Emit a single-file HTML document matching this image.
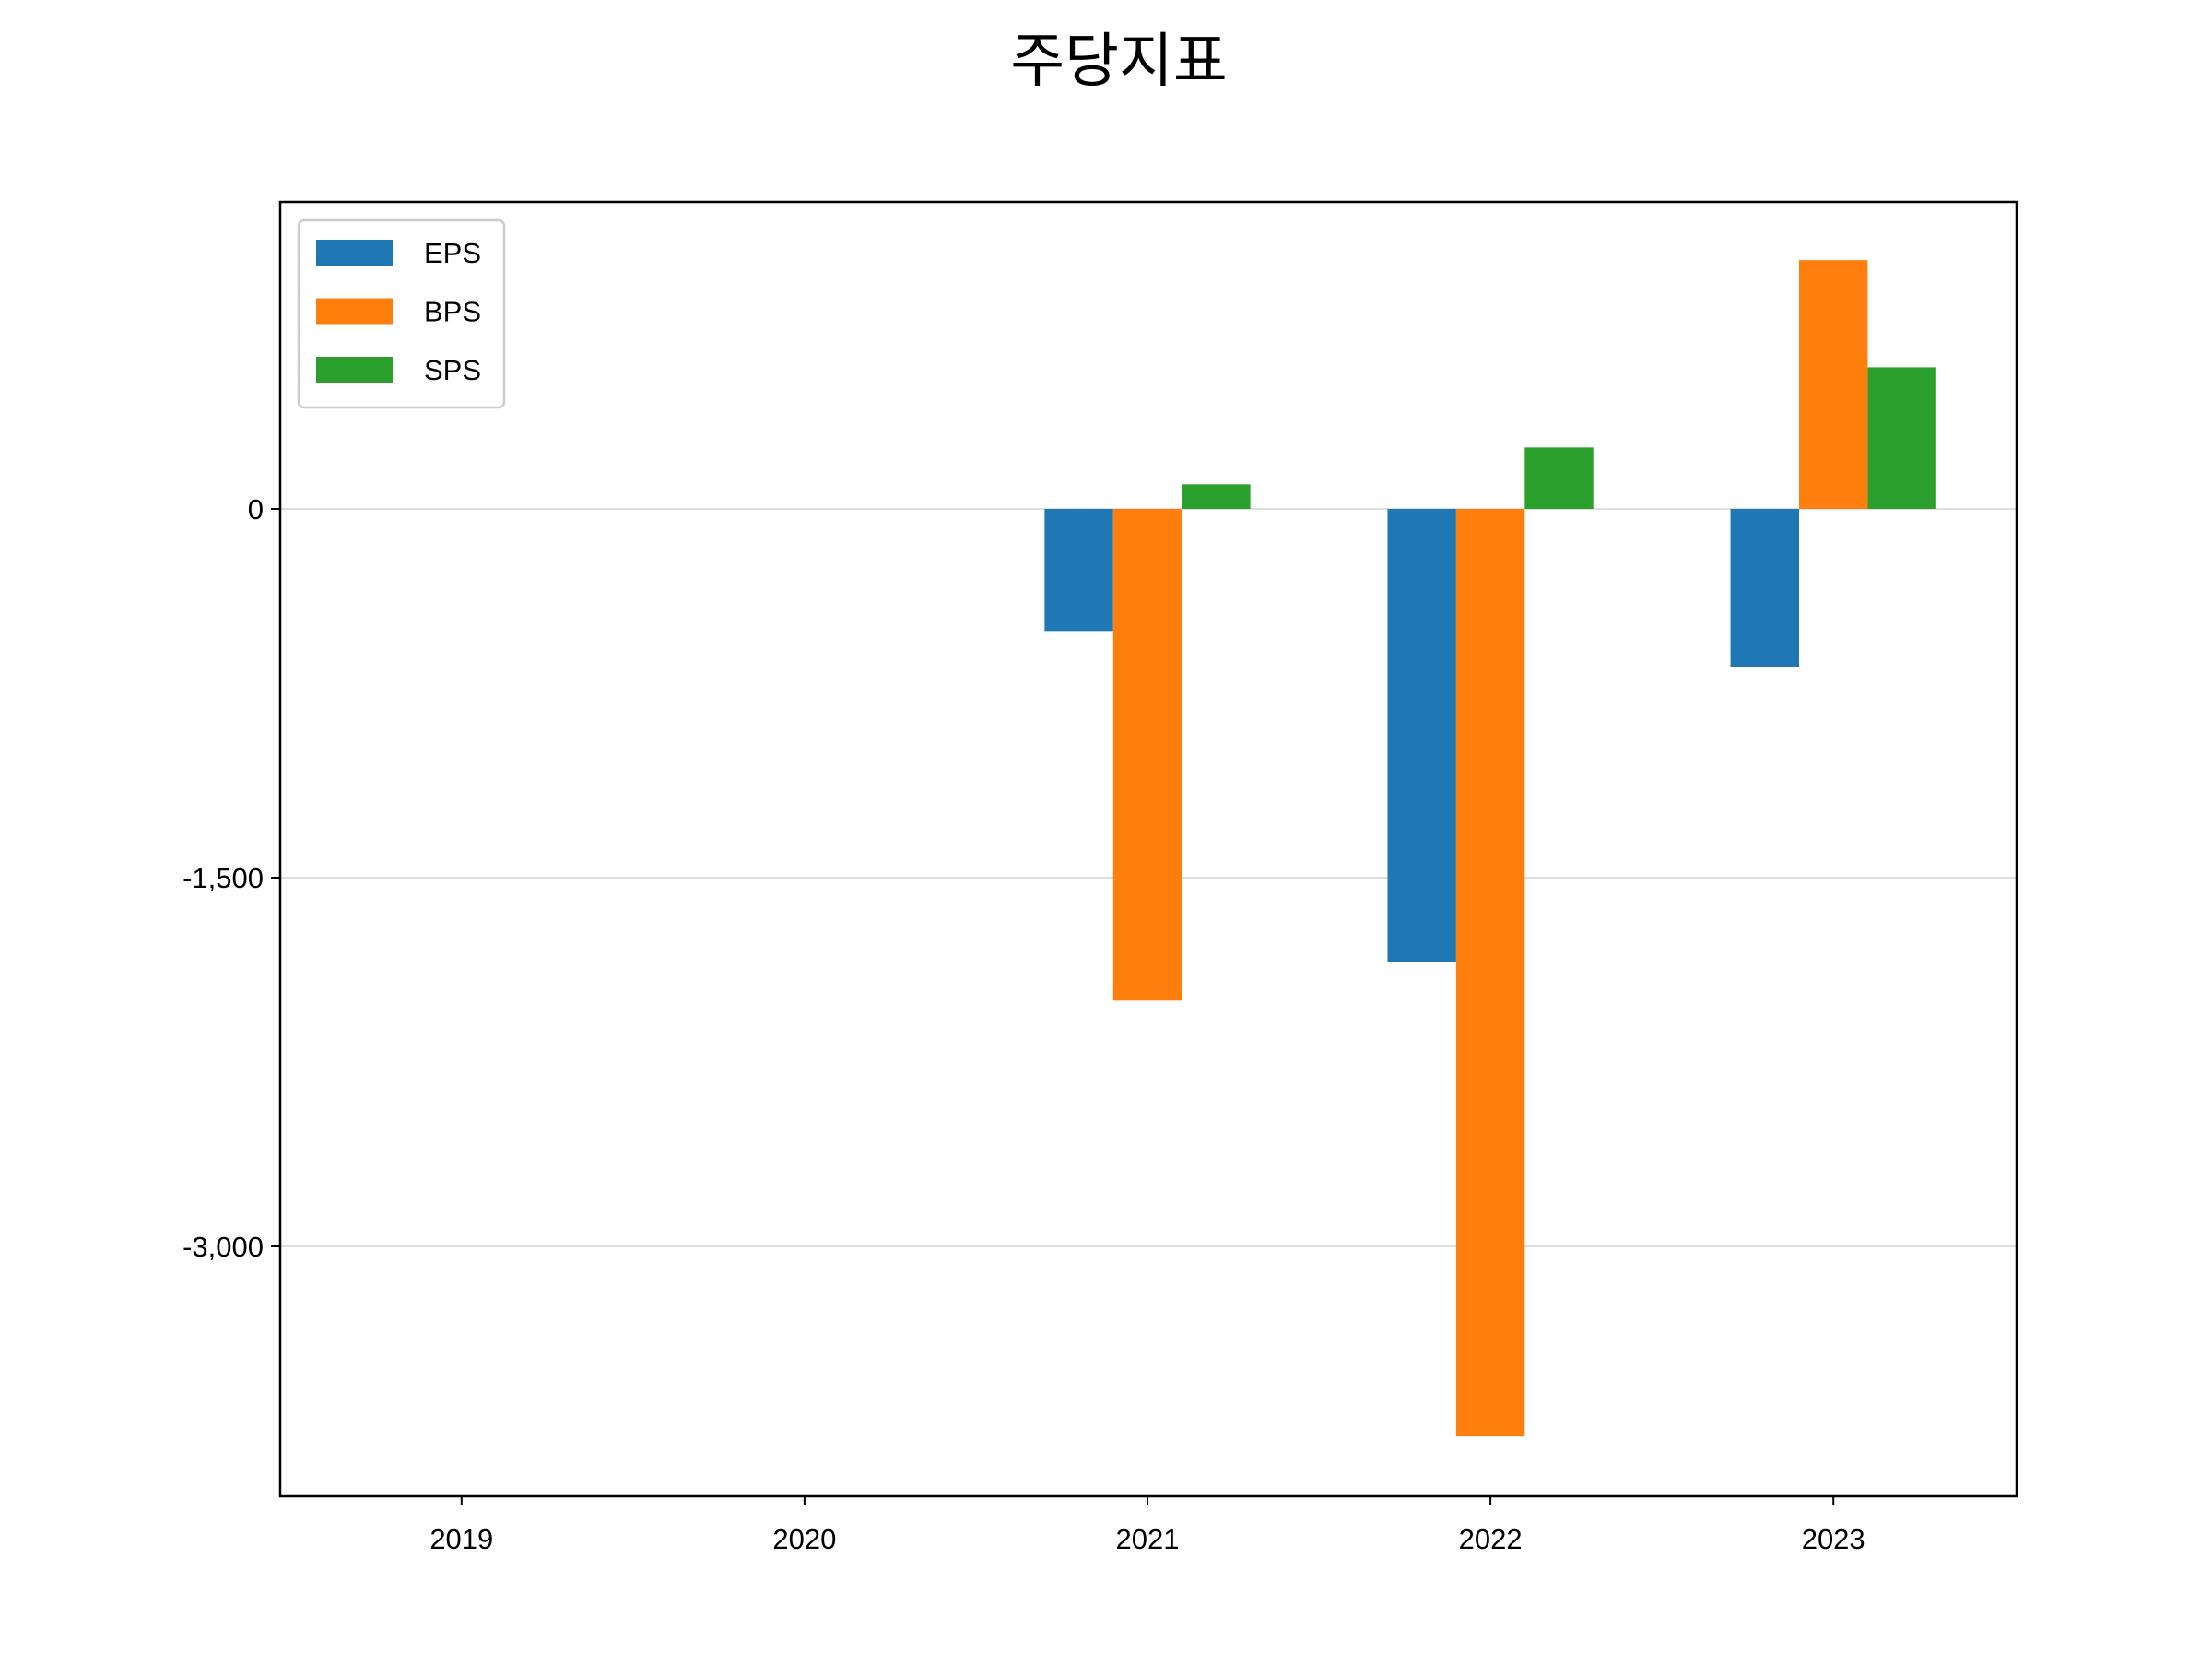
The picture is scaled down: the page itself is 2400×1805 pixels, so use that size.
<!DOCTYPE html>
<html><head><meta charset="utf-8"><style>
html,body{margin:0;padding:0;background:#fff;}
svg text{font-family:"Liberation Sans","Noto Sans CJK KR","NanumGothic",sans-serif;}
</style></head><body>
<svg id="chart" width="2400" height="1800" xmlns="http://www.w3.org/2000/svg">
<rect width="2400" height="1800" fill="#fff"/>
<text x="1214" y="88" font-size="64" text-anchor="middle" fill="#000">주당지표</text>
<g id="grid"></g>
<g id="bars"></g>
<rect x="304" y="219" width="1884" height="1404" fill="none" stroke="#000" stroke-width="2.5"/>
<g id="yticks"></g>
<g id="xticks"></g>
<g id="legend">
<rect x="324" y="239" width="223" height="203" rx="6" fill="#fff" stroke="#ccc" stroke-width="2.5"/>
</g>
</svg>
<script>
const categories = ["2019","2020","2021","2022","2023"];
const seriesNames = ["EPS","BPS","SPS"];
const eps = [0, 0, -500, -1843, -645];
const bps = [0, 0, -2000, -3773, 1012];
const sps = [0, 0, 100, 250, 576];
const yTickValues = [0, -1500, -3000];
const yTickLabels = ["0","-1,500","-3,000"];
const colors = ["#1f77b4","#ff7f0e","#2ca02c"];
const NS="http://www.w3.org/2000/svg";
const L=304,R=2188,T=219,B=1623;
const x = v => 500.8 + v*372.1;
const y = v => 552 - v*0.266667;
function mk(tag, attrs, parent){const e=document.createElementNS(NS,tag);for(const k in attrs)e.setAttribute(k,attrs[k]);parent.appendChild(e);return e;}
const grid=document.getElementById('grid'), bars=document.getElementById('bars');
const yt=document.getElementById('yticks'), xt=document.getElementById('xticks'), lg=document.getElementById('legend');
yTickValues.forEach((v,i)=>{
  const g=mk('line',{x1:L,x2:R,y1:y(v),y2:y(v),stroke:'#d3d3d3','stroke-width':1.5},grid);
  
  
  const tk=mk('line',{x1:L-10,x2:L,y1:y(v),y2:y(v),stroke:'#000','stroke-width':2},yt);
  
  
  const t=mk('text',{x:L-18,y:y(v)+11,'font-size':31,'text-anchor':'end',fill:'#000'},yt);
  t.textContent=yTickLabels[i];
  
  
});
categories.forEach((c,i)=>{
  const tk=mk('line',{x1:x(i),x2:x(i),y1:B,y2:B+10,stroke:'#000','stroke-width':2},xt);
  
  
  const t=mk('text',{x:x(i),y:B+57,'font-size':31,'text-anchor':'middle',fill:'#000'},xt);
  t.textContent=c;
  
  
});
const data=[eps,bps,sps];
const w=0.2;
data.forEach((s,si)=>{
  s.forEach((v,i)=>{
    if(v===0) return;
    const cx=i+(si-1)*w;
    const x0=x(cx-w/2), x1=x(cx+w/2);
    const y0=Math.min(y(0),y(v)), h=Math.abs(y(v)-y(0));
    const r=mk('rect',{x:x0,y:y0,width:x1-x0,height:h,fill:colors[si]},bars);
    
    
  });
});
seriesNames.forEach((n,i)=>{
  const cy=274+i*63.5;
  const p=mk('rect',{x:343,y:cy-14,width:83,height:28,fill:colors[i]},lg);
  
  
  const t=mk('text',{x:460,y:cy+11,'font-size':31,fill:'#000'},lg);
  t.textContent=n;
  
  
});
</script>
</body></html>
